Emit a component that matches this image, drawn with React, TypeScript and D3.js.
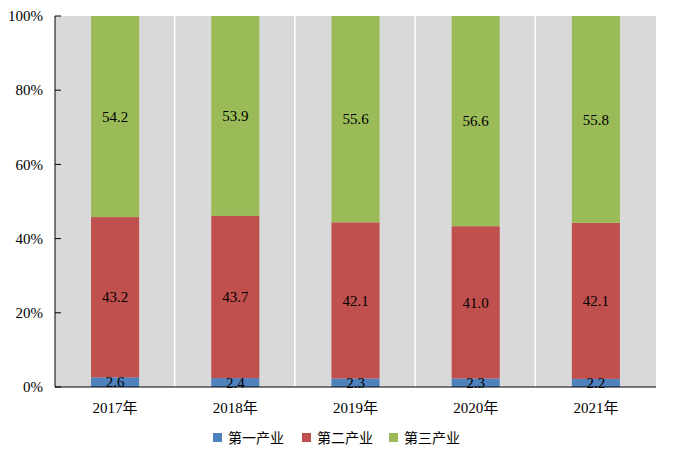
import * as d3 from 'd3'

const years = ['2017年', '2018年', '2019年', '2020年', '2021年']
const seriesNames = ['第一产业', '第二产业', '第三产业']
const primary = [2.6, 2.4, 2.3, 2.3, 2.2]
const secondary = [43.2, 43.7, 42.1, 41.0, 42.1]
const tertiary = [54.2, 53.9, 55.6, 56.6, 55.8]
const yTicks = [0, 0.2, 0.4, 0.6, 0.8, 1]
const colors = ['#4f81bd', '#c0504d', '#9bbb59']

const width = 676
const height = 466
const marginTop = 16
const marginRight = 20
const marginBottom = 79
const marginLeft = 55
const serif = "'Liberation Serif', 'Times New Roman', Times, serif"
const cjk = "'Liberation Serif', 'Noto Sans CJK SC', serif"

export default function App() {
  const rows = years.map((year, i) => ({
    year,
    [seriesNames[0]]: primary[i],
    [seriesNames[1]]: secondary[i],
    [seriesNames[2]]: tertiary[i],
  }))
  // shares are normalised to 100% like the original chart
  const stacked = d3.stack<any>().keys(seriesNames).offset(d3.stackOffsetExpand)(rows)
  const values = [primary, secondary, tertiary]

  const x = d3.scaleBand(years, [marginLeft, width - marginRight])
  const y = d3.scaleLinear([0, 1], [height - marginBottom, marginTop])
  const barWidth = x.bandwidth() * 0.4

  const legendX = [213, 302, 389]

  return (
    <svg
      width={width}
      height={height}
      viewBox={`0 0 ${width} ${height}`}
      style={{ position: 'absolute', left: 0, top: 0, background: '#fff' }}
    >
      <rect
        x={marginLeft}
        y={marginTop}
        width={width - marginLeft - marginRight}
        height={height - marginTop - marginBottom}
        fill="#d9d9d9"
      />
      {years.slice(1).map((year) => (
        <line
          key={year}
          x1={x(year)! - 0.5}
          x2={x(year)! - 0.5}
          y1={marginTop}
          y2={height - marginBottom}
          stroke="#fff"
          strokeWidth={1.5}
        />
      ))}
      {stacked.map((layer, si) => (
        <g key={layer.key} fill={colors[si]}>
          {layer.map((d, i) => (
            <rect
              key={i}
              x={x(years[i])! + (x.bandwidth() - barWidth) / 2}
              y={y(d[1])}
              width={barWidth}
              height={y(d[0]) - y(d[1])}
            />
          ))}
        </g>
      ))}
      {stacked.map((layer, si) => (
        <g key={layer.key} textAnchor="middle" fill="#000" style={{ fontFamily: serif, fontSize: 15 }}>
          {layer.map((d, i) => (
            <text
              key={i}
              x={x(years[i])! + x.bandwidth() / 2}
              y={(y(d[0]) + y(d[1])) / 2}
              dy="0.35em"
            >
              {values[si][i].toFixed(1)}
            </text>
          ))}
        </g>
      ))}
      <line x1={marginLeft} x2={marginLeft} y1={marginTop} y2={height - marginBottom} stroke="#000" />
      <line
        x1={marginLeft}
        x2={width - marginRight}
        y1={height - marginBottom}
        y2={height - marginBottom}
        stroke="#000"
      />
      {yTicks.map((t) => (
        <g key={t} transform={`translate(0,${y(t)})`}>
          <line x1={marginLeft} x2={marginLeft + 6} stroke="#000" />
          <text
            x={marginLeft - 12}
            dy="0.35em"
            textAnchor="end"
            style={{ fontFamily: serif, fontSize: 15 }}
          >
            {d3.format('.0%')(t)}
          </text>
        </g>
      ))}
      {years.map((year) => (
        <text
          key={year}
          x={x(year)! + x.bandwidth() / 2}
          y={height - marginBottom + 26}
          textAnchor="middle"
          style={{ fontFamily: cjk, fontSize: 15 }}
        >
          {year}
        </text>
      ))}
      {seriesNames.map((name, i) => (
        <g key={name} transform={`translate(${legendX[i]},438)`}>
          <rect x={0} y={-5} width={9} height={9} fill={colors[i]} />
          <text x={15} dy="0.35em" style={{ fontFamily: cjk, fontSize: 14 }}>
            {name}
          </text>
        </g>
      ))}
    </svg>
  )
}
